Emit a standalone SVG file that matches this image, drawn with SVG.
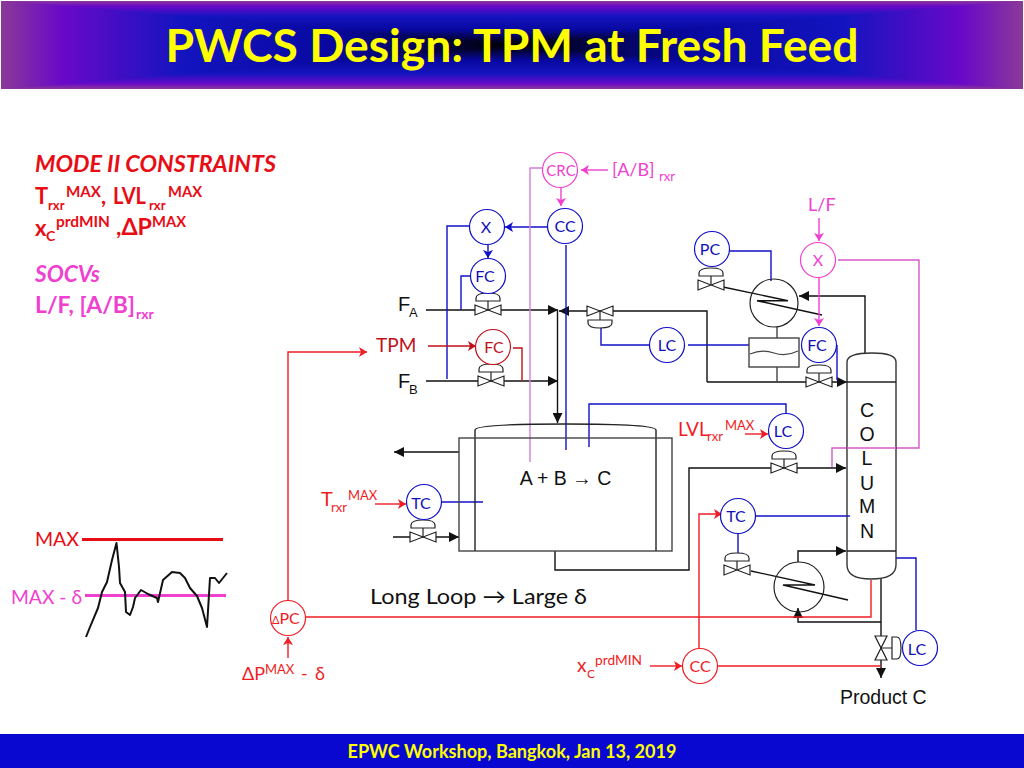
<svg xmlns="http://www.w3.org/2000/svg" width="1024" height="768" viewBox="0 0 1024 768">
<style>
.l{fill:none;stroke-width:1.4}
.k{stroke:#111}.g{stroke:#444}.b{stroke:#1010c8}.r{stroke:#f01c24}.d{stroke:#c01018}.p{stroke:#f040d0}.q{stroke:#d080d8}
.n{fill:#fff;stroke-width:1.2}
.ca{font-family:Lato,"Open Sans",sans-serif}
.ar{font-family:"Liberation Sans",Arial,sans-serif}
.tb{fill:#1010b8}.tr{fill:#f01c24}.td{fill:#c01018}.tp{fill:#f040d0}.tk{fill:#111}
.c{text-anchor:middle;font-size:16px}
.h{font-weight:700}
</style>
<defs>
<marker id="ak" markerUnits="userSpaceOnUse" markerWidth="12" markerHeight="10" refX="10" refY="5" orient="auto"><path d="M0 0L10 5L0 10z" fill="#111"/></marker>
<marker id="ab" markerUnits="userSpaceOnUse" markerWidth="9" markerHeight="10" refX="8" refY="5" orient="auto"><path d="M0 0L8 5L0 10L2 5z" fill="#1010c8"/></marker>
<marker id="ar" markerUnits="userSpaceOnUse" markerWidth="9" markerHeight="10" refX="8" refY="5" orient="auto"><path d="M0 0L8 5L0 10L2 5z" fill="#f01c24"/></marker>
<marker id="ad" markerUnits="userSpaceOnUse" markerWidth="9" markerHeight="10" refX="8" refY="5" orient="auto"><path d="M0 0L8 5L0 10L2 5z" fill="#c01018"/></marker>
<marker id="ap" markerUnits="userSpaceOnUse" markerWidth="9" markerHeight="10" refX="8" refY="5" orient="auto"><path d="M0 0L8 5L0 10L2 5z" fill="#f040d0"/></marker>
<g id="v"><path d="M-13-5L13 5L13-5L-13 5z" fill="#fff" stroke="#222" stroke-width="1.2"/></g>
<g id="va"><path d="M0 0V-9" stroke="#222" stroke-width="1.2"/><path d="M-12-9H12V-12Q12-17 0-17Q-12-17-12-12z" fill="#fff" stroke="#222" stroke-width="1.2"/><use href="#v"/></g>
<linearGradient id="gt" gradientUnits="userSpaceOnUse" x1="0" y1="1" x2="0" y2="45"><stop offset="0" stop-color="#8a3a98"/><stop offset=".12" stop-color="#6a08c8"/><stop offset=".35" stop-color="#1414c0"/><stop offset=".65" stop-color="#0808a0"/><stop offset="1" stop-color="#000"/></linearGradient>
<linearGradient id="gb" href="#gt" gradientUnits="userSpaceOnUse" x1="0" y1="89" x2="0" y2="45"/>
<linearGradient id="gl" href="#gt" gradientUnits="userSpaceOnUse" x1="1" y1="0" x2="512" y2="0"/>
<linearGradient id="gr" href="#gt" gradientUnits="userSpaceOnUse" x1="1023" y1="0" x2="512" y2="0"/>
</defs>
<rect width="1024" height="768" fill="#fff"/>
<g id="header">
<g shape-rendering="crispEdges">
<polygon points="1,1 1023,1 512,45" fill="url(#gt)"/>
<polygon points="1,89 1023,89 512,45" fill="url(#gb)"/>
<polygon points="1,1 1,89 512,45" fill="url(#gl)"/>
<polygon points="1023,1 1023,89 512,45" fill="url(#gr)"/>
</g>
<text x="512" y="62" text-anchor="middle" class="ca h" font-size="46" fill="#ffff00" textLength="693" lengthAdjust="spacingAndGlyphs">PWCS Design: TPM at Fresh Feed</text>
</g>
<g id="footer"><rect y="734" width="1024" height="34" fill="#0808d0"/>
<text x="512" y="758" text-anchor="middle" class="ca h" font-size="18" fill="#ffff00" textLength="329" lengthAdjust="spacingAndGlyphs">EPWC Workshop, Bangkok, Jan 13, 2019</text></g>

<g id="constraints" class="ca h">
<text x="35" y="172" font-size="22" font-style="italic" fill="#e80c14" textLength="241" lengthAdjust="spacingAndGlyphs">MODE II CONSTRAINTS</text>
<text x="35" y="204" font-size="22" fill="#e80c14">T</text><text x="48" y="210" font-size="13" fill="#e80c14">rxr</text><text x="66" y="197" font-size="15" fill="#e80c14" textLength="35" lengthAdjust="spacingAndGlyphs">MAX</text><text x="101" y="204" font-size="22" fill="#e80c14">,</text><text x="113" y="204" font-size="22" fill="#e80c14" textLength="33" lengthAdjust="spacingAndGlyphs">LVL</text><text x="149" y="210" font-size="13" fill="#e80c14">rxr</text><text x="168" y="197" font-size="15" fill="#e80c14" textLength="34" lengthAdjust="spacingAndGlyphs">MAX</text>
<text x="35" y="236" font-size="22" fill="#e80c14">x</text><text x="46" y="241" font-size="14" fill="#e80c14">C</text><text x="56" y="227" font-size="15" fill="#e80c14" textLength="54" lengthAdjust="spacingAndGlyphs">prdMIN</text><text x="116" y="235" font-size="22" fill="#e80c14" textLength="36" lengthAdjust="spacingAndGlyphs">,ΔP</text><text x="152" y="227" font-size="15" fill="#e80c14" textLength="34" lengthAdjust="spacingAndGlyphs">MAX</text>
<text x="35" y="282" font-size="22" font-style="italic" fill="#f040d0" textLength="65" lengthAdjust="spacingAndGlyphs">SOCVs</text>
<text x="35" y="313" font-size="22" fill="#f040d0" textLength="100" lengthAdjust="spacingAndGlyphs">L/F, [A/B]</text><text x="136" y="319" font-size="14" fill="#f040d0">rxr</text>
</g>

<g id="chart">
<path d="M82 539.500H223" stroke="#e80c14" stroke-width="3" fill="none"/>
<path d="M85 595.500H226" stroke="#f040d0" stroke-width="3" fill="none"/>
<path d="M86 637L90 627L98 608L102 592L107 582L112 560L116.500 543L119 567L120 583L125 592L126 612L130 615L133 607L135 598L141 590L148 594L157 598L158 602L163 580L172 572L180 573L185 578L190 588L197 596L202 608L207 627L210 578L215 578L219 583L227 573" fill="none" stroke="#111" stroke-width="2" stroke-linejoin="round"/>
<text x="35" y="546" class="ca" font-size="19.500" fill="#e80c14" textLength="44" lengthAdjust="spacingAndGlyphs">MAX</text>
<text x="11" y="604" class="ca" font-size="19.500" fill="#f040d0" textLength="71" lengthAdjust="spacingAndGlyphs">MAX - δ</text>
</g>

<g id="connectors">
<path class="l k" d="M426 310H558" marker-end="url(#ak)"/>
<path class="l k" d="M426 381H558" marker-end="url(#ak)"/>
<path class="l k" d="M557.500 310V423" marker-end="url(#ak)"/>
<path class="l k" d="M707 382V311H559" marker-end="url(#ak)"/>
<path class="l k" d="M707 382H847" marker-end="url(#ak)"/>
<path class="l k" d="M865 353V296H799" marker-end="url(#ak)"/>
<path class="l g" d="M777 327V338M777 367V382"/>
<path class="l k" d="M555 551V570H689V468H846" marker-end="url(#ak)"/>
<path class="l k" d="M459 452H394" marker-end="url(#ak)"/>
<path class="l k" d="M393 537H459" marker-end="url(#ak)"/>
<path class="l k" d="M798 562V551H846" marker-end="url(#ak)"/>
<path class="l k" d="M881 622H798V608" marker-end="url(#ak)"/>
<path class="l k" d="M881 579V678" marker-end="url(#ak)"/>
<path class="l k" stroke-width="1.200" d="M723 287L788 300.700H757L822 315"/>
<path class="l k" stroke-width="1.200" d="M751 571L815 585H783L848 600"/>
<path class="l b" d="M547 227H505" marker-end="url(#ab)"/>
<path class="l b" d="M470 226H447V379"/>
<path class="l b" d="M488 245V258" marker-end="url(#ab)"/>
<path class="l b" d="M471 276H461V310"/>
<path class="l b" d="M566 245V450"/>
<path class="l b" d="M653 345H601V328"/>
<path class="l b" d="M688 345H749"/>
<path class="l b" d="M730 251H771V281"/>
<path class="l b" d="M837 345V380"/>
<path class="l b" d="M786 413V404H589V447"/>
<path class="l b" d="M442 502H483"/>
<path class="l b" d="M756 516H847"/>
<path class="l b" d="M738 534V553"/>
<path class="l b" d="M896 558H916V630"/>
<path class="l p" d="M608 170H581" marker-end="url(#ap)"/>
<path class="l p" d="M561 188V206" marker-end="url(#ap)"/>
<path class="l q" d="M543 168H530V462"/>
<path class="l p" d="M819 218V241" marker-end="url(#ap)"/>
<path class="l p" d="M819 278V326" marker-end="url(#ap)"/>
<path class="l" stroke="#d858c8" d="M838 260H919V448H832V467"/>
<path class="l d" d="M428 346H476" marker-end="url(#ad)"/>
<path class="l d" d="M513 348H522V381"/>
<path class="l r" d="M288 600V352H367" marker-end="url(#ar)"/>
<path class="l r" d="M288 658V637" marker-end="url(#ar)"/>
<path class="l r" d="M306 617H871V580"/>
<path class="l r" d="M718 666H881"/>
<path class="l r" d="M650 666H682" marker-end="url(#ar)"/>
<path class="l r" d="M699 648V514H722" marker-end="url(#ar)"/>
<path class="l r" d="M745 434H768" marker-end="url(#ar)"/>
<path class="l r" d="M375 504H406" marker-end="url(#ar)"/>
</g>

<g id="valves">
<use href="#va" x="488" y="310"/>
<use href="#va" x="491" y="381"/>
<use href="#va" transform="translate(600 311) scale(1 -1)"/>
<use href="#va" x="711" y="285"/>
<use href="#va" x="819" y="382"/>
<use href="#va" x="784" y="468"/>
<use href="#va" x="423" y="537"/>
<use href="#va" x="737" y="570"/>
<path d="M875 636H887L875 660H887z" fill="#fff" stroke="#222" stroke-width="1.200"/>
<path d="M881 648H892M892 637H897Q901 637 901 648Q901 659 897 659H892z" fill="#fff" stroke="#222" stroke-width="1.200"/>
</g>

<g id="condenser"><circle cx="774" cy="303" r="24" fill="none" stroke="#222" stroke-width="1.200"/></g>
<g id="reboiler"><circle cx="799" cy="587" r="25" fill="none" stroke="#222" stroke-width="1.200"/></g>
<g id="drum"><rect x="749" y="338" width="50" height="29" fill="#fff" stroke="#444" stroke-width="1.400"/><path d="M750 354Q762 349 774 353T798 351" fill="none" stroke="#444" stroke-width="1.200"/></g>

<g id="reactor">
<path d="M475 551V430Q475 424 565 424Q656 424 656 430V551" fill="none" stroke="#222" stroke-width="1.400"/>
<rect x="459" y="438" width="213" height="113" fill="none" stroke="#444" stroke-width="1.400"/>
<text x="565.500" y="485" text-anchor="middle" class="ar tk" font-size="19.500">A + B → C</text>
</g>

<g id="column">
<path d="M847 382V362Q847 353 872 353Q896 353 896 362V565Q896 579 871 579Q847 579 847 565V382" fill="#fff" stroke="#333" stroke-width="1.400"/>
<path d="M847 382H896M847 551H896" stroke="#222" stroke-width="1.400"/>
<path class="l b" d="M847 516H850"/>
<g class="ar tk" font-size="19.500" text-anchor="middle">
<text x="867" y="417">C</text><text x="867" y="441">O</text><text x="867" y="465">L</text><text x="867" y="490">U</text><text x="867" y="513">M</text><text x="867" y="538">N</text>
</g>
</g>
<path class="l" stroke="#d858c8" d="M847 448H896"/>

<g class="ca">
<g id="crc"><circle class="n p" cx="560" cy="170" r="17.500"/><text class="c tp" x="561" y="176" style="font-size:15px">CRC</text></g>
<g id="cc1"><circle class="n b" cx="565" cy="226" r="17.500"/><text class="c tb" x="565" y="232">CC</text></g>
<g id="x1"><circle class="n b" cx="487" cy="227" r="17.500"/><text class="c tb" x="486" y="233">X</text></g>
<g id="fc1"><circle class="n b" cx="488" cy="276" r="17.500"/><text class="c tb" x="485" y="282">FC</text></g>
<g id="fc2"><circle class="n d" cx="493" cy="347" r="17.500"/><text class="c td" x="494" y="353">FC</text></g>
<g id="lc1"><circle class="n b" cx="667" cy="345" r="17.500"/><text class="c tb" x="667" y="351">LC</text></g>
<g id="pc"><circle class="n b" cx="712" cy="249" r="17.500"/><text class="c tb" x="710" y="255">PC</text></g>
<g id="x2"><circle class="n p" cx="818" cy="260" r="17.500"/><text class="c tp" x="818" y="266">X</text></g>
<g id="fc3"><circle class="n b" cx="819" cy="345" r="17.500"/><text class="c tb" x="817" y="351">FC</text></g>
<g id="lc2"><circle class="n b" cx="786" cy="431" r="17.500"/><text class="c tb" x="783" y="437">LC</text></g>
<g id="tc1"><circle class="n b" cx="424" cy="502" r="17.500"/><text class="c tb" x="421" y="509">TC</text></g>
<g id="tc2"><circle class="n b" cx="738" cy="516" r="17.500"/><text class="c tb" x="736" y="522">TC</text></g>
<g id="lc3"><circle class="n b" cx="920" cy="648" r="17.500"/><text class="c tb" x="917" y="655">LC</text></g>
<g id="cc2"><circle class="n r" cx="700" cy="666" r="17.500"/><text class="c tr" x="700" y="672">CC</text></g>
<g id="dpc"><circle class="n r" cx="288" cy="618" r="17.500"/><text class="tr" x="272" y="624" font-size="16"><tspan font-size="11">Δ</tspan>PC</text></g>
</g>

<g id="labels">
<g class="ar tk">
<text x="398" y="311" font-size="20">F</text><text x="409" y="317" font-size="13">A</text>
<text x="398" y="388" font-size="20">F</text><text x="409" y="394" font-size="13">B</text>
<text x="840" y="704" font-size="19.500">Product C</text>
</g>
<g class="ca">
<text x="612" y="176" font-size="18" fill="#f040d0">[A/B]</text><text x="659" y="181" font-size="13" fill="#f040d0">rxr</text>
<text x="808" y="211" font-size="18" fill="#f040d0">L/F</text>
<text x="376" y="352" font-size="19" fill="#c01018">TPM</text>
<text x="678" y="436" font-size="19" fill="#f01c24">LVL</text><text x="707" y="441" font-size="13" fill="#f01c24">rxr</text><text x="725" y="430" font-size="13" fill="#f01c24">MAX</text>
<text x="321" y="506" font-size="20" fill="#f01c24">T</text><text x="331" y="512" font-size="13" fill="#f01c24">rxr</text><text x="348" y="500" font-size="13" fill="#f01c24">MAX</text>
<text x="577" y="672" font-size="19" fill="#f01c24">x</text><text x="587" y="678" font-size="12" fill="#f01c24">C</text><text x="595" y="665" font-size="13" fill="#f01c24" textLength="47" lengthAdjust="spacingAndGlyphs">prdMIN</text>
<text x="242" y="680" font-size="18" fill="#f01c24">ΔP</text><text x="265" y="674" font-size="13" fill="#f01c24">MAX</text><text x="301" y="680" font-size="18" fill="#f01c24" textLength="24">- δ</text>
<text x="370" y="604" font-size="21" fill="#111" textLength="217" lengthAdjust="spacingAndGlyphs">Long Loop → Large δ</text>
</g>
</g>
</svg>
